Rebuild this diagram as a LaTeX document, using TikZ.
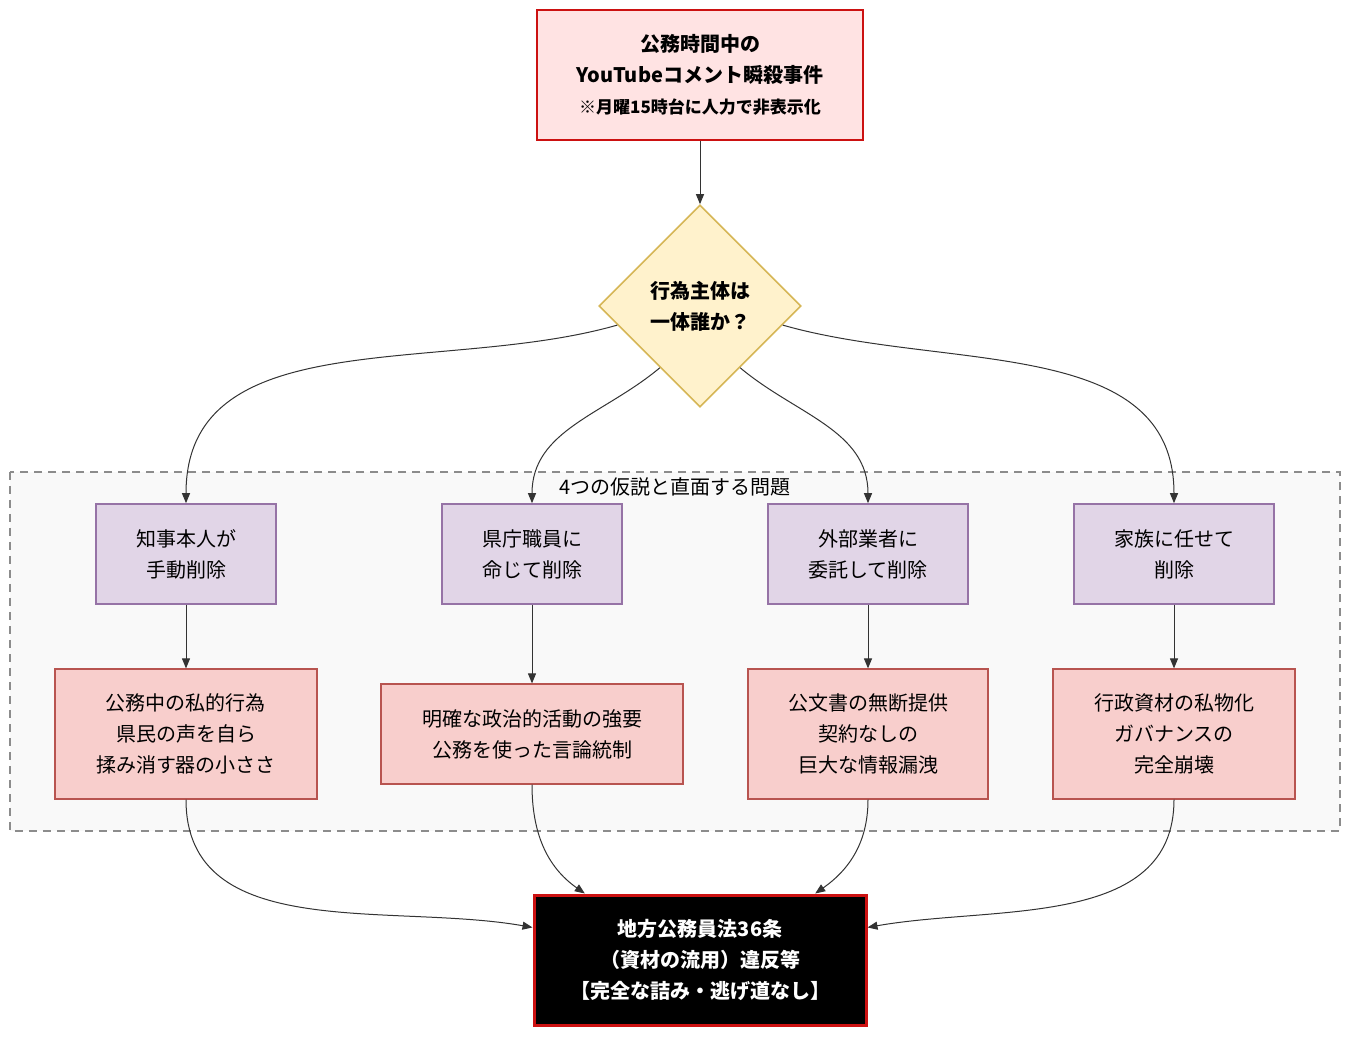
\documentclass[tikz,border=0pt]{standalone}
\usepackage{fontspec}
\setmainfont{Noto Sans CJK JP}
\usetikzlibrary{arrows.meta}
\usetikzlibrary{shapes.geometric}
\definecolor{startfill}{HTML}{FFE3E3}
\definecolor{startline}{HTML}{CC1111}
\definecolor{askfill}{HTML}{FFF2CC}
\definecolor{askline}{HTML}{D6B656}
\definecolor{casefill}{HTML}{E1D5E7}
\definecolor{caseline}{HTML}{9673A6}
\definecolor{probfill}{HTML}{F8CECC}
\definecolor{probline}{HTML}{B85450}
\definecolor{wire}{HTML}{333333}
\tikzset{
	every node/.style={font=\fontsize{10}{15.5}\selectfont},
	align=center,
	start/.style={
		draw=startline,
		fill=startfill,
		line width=1pt,
		minimum width=163pt,
		minimum height=65pt,
		font=\bfseries\fontsize{10}{15.5}\selectfont,
	},
	ask/.style={
		draw=askline,
		fill=askfill,
		diamond,
		line width=0.8pt,
		minimum width=101pt,
		minimum height=101pt,
		inner sep=0pt,
		font=\bfseries\fontsize{10}{15.5}\selectfont,
	},
	case/.style={
		draw=caseline,
		fill=casefill,
		line width=0.8pt,
		minimum height=50pt,
	},
	prob/.style={
		draw=probline,
		fill=probfill,
		line width=0.6pt,
	},
	verdict/.style={
		draw=startline,
		fill=black,
		text=white,
		line width=1.5pt,
		minimum width=166pt,
		minimum height=65pt,
		font=\bfseries\fontsize{10}{15.5}\selectfont,
	},
	link/.style={
		draw=wire,
		line width=0.5pt,
		-{Triangle[length=5pt,width=4pt]}
	},
}

\begin{document}
\begin{tikzpicture}[x=0.5pt,y=-0.5pt]
		\useasboundingbox (0,0) rectangle (1350,1037);

		\draw[fill=black!2.5, draw=black!45, dashed, line width=0.7pt, dash pattern=on 4pt off 3pt] (10,472) rectangle (1340,831);
		\node (grp) at (675,487) {4つの仮説と直面する問題};

		\node[start]  (event) at (700,75) {公務時間中の\\YouTubeコメント瞬殺事件\\{\fontsize{8.5}{15.5}\selectfont ※月曜15時台に人力で非表示化}};
		\node[ask]    (who) at (700,306) {行為主体は\\一体誰か？};

		\node[case, minimum width=90pt]  (self)   at (186,554) {知事本人が\\手動削除};
		\node[case, minimum width=90pt]  (staff)  at (532,554) {県庁職員に\\命じて削除};
		\node[case, minimum width=100pt] (vendor) at (868,554) {外部業者に\\委託して削除};
		\node[case, minimum width=100pt] (family) at (1174,554) {家族に任せて\\削除};

		\node[prob, minimum width=131pt, minimum height=65pt] (p1) at (186,734) {公務中の私的行為\\県民の声を自ら\\揉み消す器の小ささ};
		\node[prob, minimum width=151pt, minimum height=50pt] (p2) at (532,734) {明確な政治的活動の強要\\公務を使った言論統制};
		\node[prob, minimum width=120pt, minimum height=65pt] (p3) at (868,734) {公文書の無断提供\\契約なしの\\巨大な情報漏洩};
		\node[prob, minimum width=121pt, minimum height=65pt] (p4) at (1174,734) {行政資材の私物化\\ガバナンスの\\完全崩壊};

		\node[verdict] (law) at (700,960) {地方公務員法36条\\（資材の流用）違反等\\【完全な詰み・逃げ道なし】};

		\draw[link] (event) -- (who);
		\draw[link] (who.193) to[out=196,in=90] (self.north);
		\draw[link] (who.237) to[out=220,in=90] (staff.north);
		\draw[link] (who.303) to[out=-40,in=90] (vendor.north);
		\draw[link] (who.347) to[out=-16,in=90] (family.north);

		\foreach \c/\p in {self/p1,staff/p2,vendor/p3,family/p4}
			\draw[link] (\c) -- (\p);

		\draw[link] (p1.south) to[out=-90,in=170] (law.169);
		\draw[link] (p2.south) to[out=-90,in=145] (law.150);
		\draw[link] (p3.south) to[out=-90,in=35] (law.30);
		\draw[link] (p4.south) to[out=-90,in=10] (law.11);

	\end{tikzpicture}
\end{document}
